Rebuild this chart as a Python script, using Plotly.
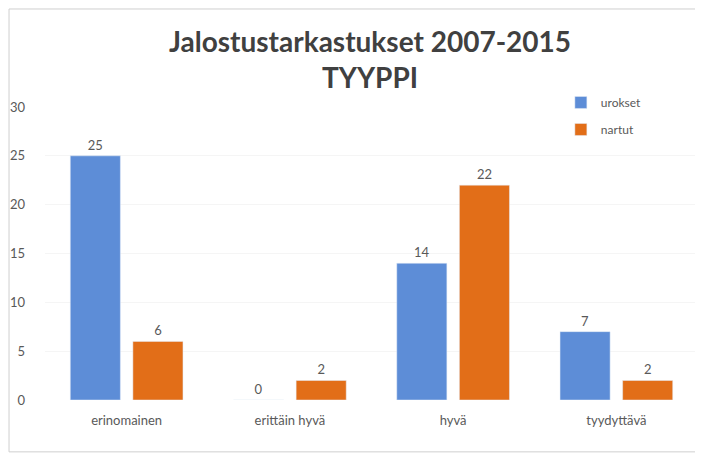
import plotly.graph_objects as go

categories = ["erinomainen", "erittäin hyvä", "hyvä", "tyydyttävä"]
urokset = [25, 0, 14, 7]
nartut = [6, 2, 22, 2]
y_ticks = [0, 5, 10, 15, 20, 25, 30]

blue = "#5d8dd7"
orange = "#e26e18"
grey_text = "#595959"

fig = go.Figure()
fig.add_trace(go.Bar(
    name="urokset", x=categories, y=urokset, marker_color=blue,
    legendgroup="u",
    text=urokset, textposition="outside", cliponaxis=False,
    textfont=dict(size=13, color=grey_text),
))
fig.add_trace(go.Bar(
    name="nartut", x=categories, y=nartut, marker_color=orange,
    legendgroup="n",
    text=nartut, textposition="outside", cliponaxis=False,
    textfont=dict(size=13, color=grey_text),
))

fig.update_layout(
    width=703, height=461,
    margin=dict(l=37, r=13, t=99, b=69),
    paper_bgcolor="white", plot_bgcolor="white",
    font=dict(family="Lato, Open Sans, sans-serif", color=grey_text),
    title=dict(
        text="<b>Jalostustarkastukset 2007-2015<br>TYYPPI</b>",
        x=0.515, xanchor="center", xref="container",
        y=1 - 44 / 461, yanchor="top", yref="container",
        font=dict(size=28, color="#404040"),
    ),
    barmode="group", bargap=0.233, bargroupgap=0.2,
    legend=dict(
        x=0.79, y=1.065, xanchor="left", yanchor="top",
        font=dict(size=12, color=grey_text),
        bgcolor="rgba(0,0,0,0)", tracegroupgap=8,
        itemwidth=30,
    ),
    showlegend=True,
    shapes=[dict(
        type="rect", xref="paper", yref="paper",
        x0=-0.0551, x1=1.03, y0=-0.177, y1=1.3345,
        line=dict(color="#cfcfcf", width=1), layer="below",
    )],
)
fig.update_yaxes(
    range=[0, 30], tickvals=y_ticks, showgrid=True, gridcolor="#f5f5f5",
    zeroline=False, showline=False, ticklabelstandoff=19, automargin=False,
    tickfont=dict(size=13, color=grey_text),
)
fig.update_xaxes(
    showline=False, tickfont=dict(size=13, color=grey_text),
    ticklabelstandoff=11, automargin=False,
)

fig.write_html("out.html")
